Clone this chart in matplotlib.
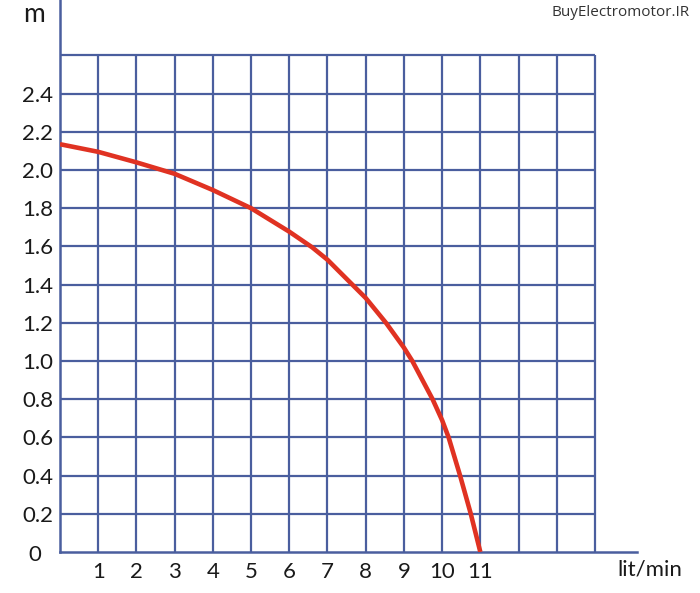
import matplotlib.pyplot as plt
import numpy as np

# pump curve (flow in lit/min, head in m)
flow = [0, 1, 2, 3, 4, 5, 6, 6.6, 7, 7.65, 8, 8.53, 9, 9.22, 9.75, 10, 10.17, 10.47, 10.75, 11.0]
head = [2.135, 2.095, 2.04, 1.98, 1.895, 1.80, 1.677, 1.595, 1.53, 1.40, 1.33, 1.20, 1.07, 1.00, 0.80, 0.69, 0.60, 0.40, 0.20, 0.0]

x_labels = ["1", "2", "3", "4", "5", "6", "7", "8", "9", "10", "11"]
y_labels = ["0.2", "0.4", "0.6", "0.8", "1.0", "1.2", "1.4", "1.6", "1.8", "2.0", "2.2", "2.4"]

grid_color = "#4a5e9e"
curve_color = "#e03222"
plt.rcParams['font.family'] = ['Lato', 'DejaVu Sans']

fig = plt.figure(figsize=(7, 5.93), dpi=100)
ax = fig.add_axes([60 / 700, 41 / 593, 577 / 700, 552 / 593])
ax.set_xlim(0, 15.1)
ax.set_ylim(0, 2.89)

# grid: 14 columns x 13 rows
ax.vlines(np.arange(1, 15), 0, 2.6, color=grid_color, lw=1.6)
ax.hlines(np.arange(1, 14) * 0.2, 0, 14, color=grid_color, lw=1.6)

ax.plot(flow, head, color=curve_color, lw=3.3, solid_capstyle='butt',
        solid_joinstyle='round', zorder=3)

for s in ["top", "right"]:
    ax.spines[s].set_visible(False)
for s in ["left", "bottom"]:
    ax.spines[s].set_color(grid_color)
    ax.spines[s].set_linewidth(1.8)

ax.set_xticks(range(1, 12))
ax.set_xticklabels(x_labels)
ax.set_yticks(np.arange(1, 13) * 0.2)
ax.set_yticklabels(y_labels)
ax.tick_params(length=0, labelsize=16, colors="#1a1a1a", pad=5)
ax.tick_params(axis="x", pad=7)

ax.text(-0.66, -0.015, "0", fontsize=16, ha="center", va="center", color="#1a1a1a")
fig.text(34 / 700, 1 - 15 / 593, "m", fontsize=19, ha="center", va="center", color="#1a1a1a")
fig.text(650 / 700, 1 - 569 / 593, "lit/min", fontsize=16, ha="center", va="center", color="#1a1a1a")
fig.text(690 / 700, 1 - 13 / 593, "BuyElectromotor.IR", fontsize=11, ha="right", va="center",
         color="#333333", family=["Open Sans", "DejaVu Sans"])

fig.savefig("out.png", dpi=100)
